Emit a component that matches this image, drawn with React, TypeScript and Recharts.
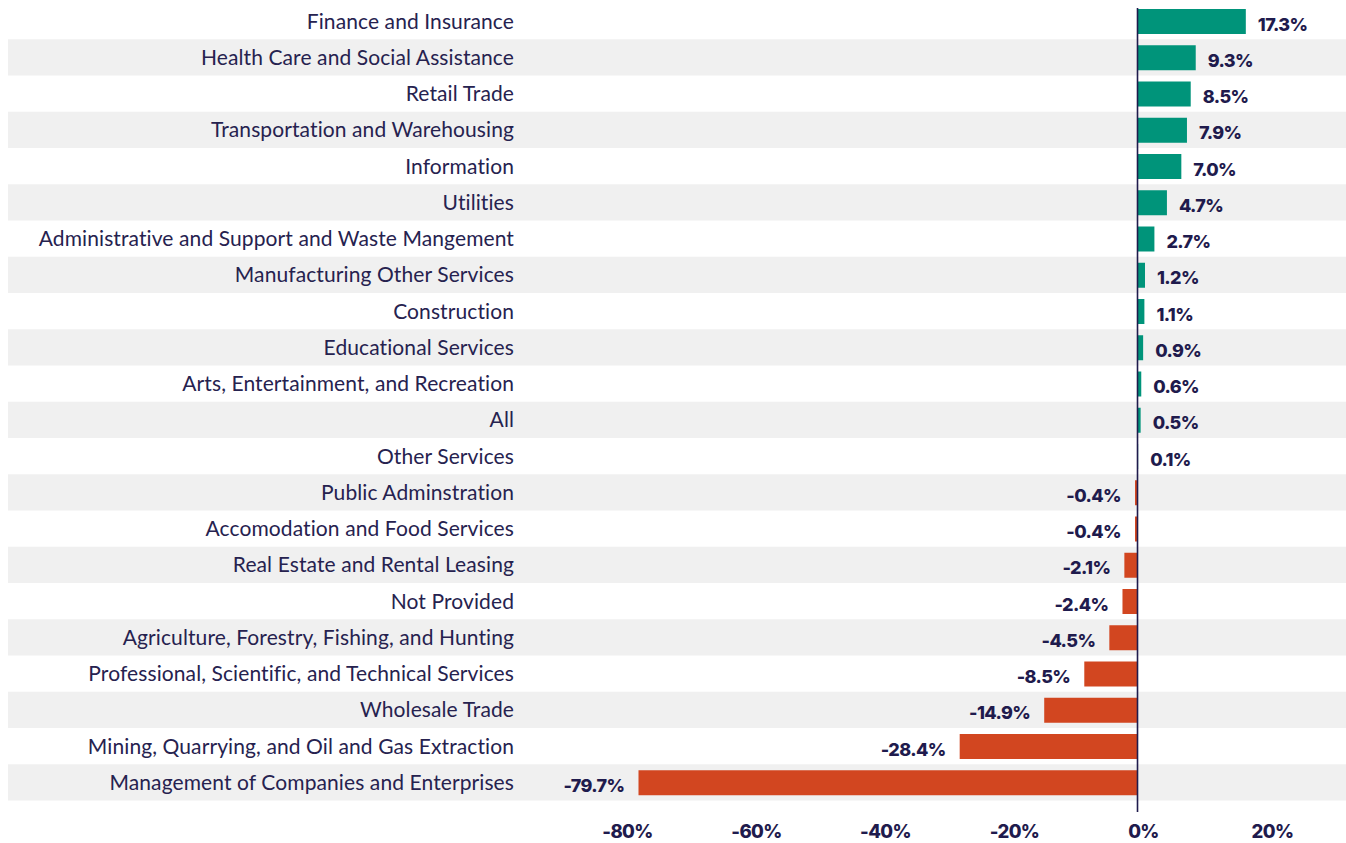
import React from "react";
import {
  BarChart,
  Bar,
  XAxis,
  YAxis,
  Cell,
  LabelList,
  ReferenceArea,
  ReferenceLine,
} from "recharts";

const categories = [
  "Finance and Insurance",
  "Health Care and Social Assistance",
  "Retail Trade",
  "Transportation and Warehousing",
  "Information",
  "Utilities",
  "Administrative and Support and Waste Mangement",
  "Manufacturing Other Services",
  "Construction",
  "Educational Services",
  "Arts, Entertainment, and Recreation",
  "All",
  "Other Services",
  "Public Adminstration",
  "Accomodation and Food Services",
  "Real Estate and Rental Leasing",
  "Not Provided",
  "Agriculture, Forestry, Fishing, and Hunting",
  "Professional, Scientific, and Technical Services",
  "Wholesale Trade",
  "Mining, Quarrying, and Oil and Gas Extraction",
  "Management of Companies and Enterprises",
];

const values = [
  17.3, 9.3, 8.5, 7.9, 7.0, 4.7, 2.7, 1.2, 1.1, 0.9, 0.6, 0.5, 0.1, -0.4, -0.4,
  -2.1, -2.4, -4.5, -8.5, -14.9, -28.4, -79.7,
];

const xTicks = [-80, -60, -40, -20, 0, 20];

const POS = "#00947a";
const NEG = "#d24620";
const NAVY = "#1f1b4d";
const STRIPE = "#f0f0f0";

const data = categories.map((name, i) => ({ name, value: values[i] }));

const CategoryTick = (props: any) => {
  const { x, y, payload } = props;
  return (
    <text
      x={x}
      y={y}
      dy={7.5}
      textAnchor="end"
      fill="#26224f"
      fontFamily="Lato, sans-serif"
      fontSize={21}
      letterSpacing={0.1}
    >
      {payload.value}
    </text>
  );
};

const ValueLabel = (props: any) => {
  const { x, y, width, height, value } = props;
  const left = Math.min(x, x + width);
  const right = Math.max(x, x + width);
  const neg = value < 0;
  return (
    <text
      x={neg ? left - 14 : right + 12}
      y={y + height / 2}
      dy={9}
      textAnchor={neg ? "end" : "start"}
      fill={NAVY}
      fontFamily="Inter, sans-serif"
      fontWeight={800}
      fontSize={18}
      letterSpacing={-0.6}
    >
      {`${Number(value).toFixed(1)}%`}
    </text>
  );
};

export default function App() {
  return (
    <div style={{ position: "absolute", left: 0, top: 0, background: "#fff" }}>
      <BarChart
        width={1346}
        height={843}
        data={data}
        layout="vertical"
        margin={{ top: 8, right: 0, left: 8, bottom: 0 }}
      >
        <XAxis
          xAxisId="v"
          type="number"
          hide
          domain={[-180.4, 33.3]}
          allowDataOverflow
        />
        <XAxis
          xAxisId="t"
          type="number"
          domain={[-176.05, 31.4]}
          allowDataOverflow
          ticks={xTicks}
          interval={0}
          axisLine={false}
          tickLine={false}
          tickSize={0}
          tickMargin={13}
          height={31}
          tickFormatter={(v: number) => `${v}%`}
          tick={{
            fill: NAVY,
            fontFamily: "Inter, sans-serif",
            fontWeight: 800,
            fontSize: 18.5,
            letterSpacing: -0.6,
          }}
        />
        <YAxis
          type="category"
          dataKey="name"
          mirror
          interval={0}
          axisLine={false}
          tickLine={false}
          tickSize={0}
          tickMargin={506}
          padding={{ top: -5, bottom: 11.5 }}
          tick={<CategoryTick />}
        />
        {categories.map((c, i) =>
          i % 2 === 1 ? (
            <ReferenceArea
              key={c}
              xAxisId="v"
              y1={c}
              y2={c}
              fill={STRIPE}
              fillOpacity={1}
              stroke="none"
              ifOverflow="visible"
            />
          ) : null
        )}
        <Bar
          xAxisId="v"
          dataKey="value"
          barSize={25}
          isAnimationActive={false}
        >
          {data.map((d) => (
            <Cell key={d.name} fill={d.value >= 0 ? POS : NEG} />
          ))}
          <LabelList dataKey="value" content={<ValueLabel />} />
        </Bar>
        <ReferenceLine
          xAxisId="v"
          x={0}
          stroke={NAVY}
          strokeWidth={1.6}
          ifOverflow="visible"
        />
      </BarChart>
    </div>
  );
}
